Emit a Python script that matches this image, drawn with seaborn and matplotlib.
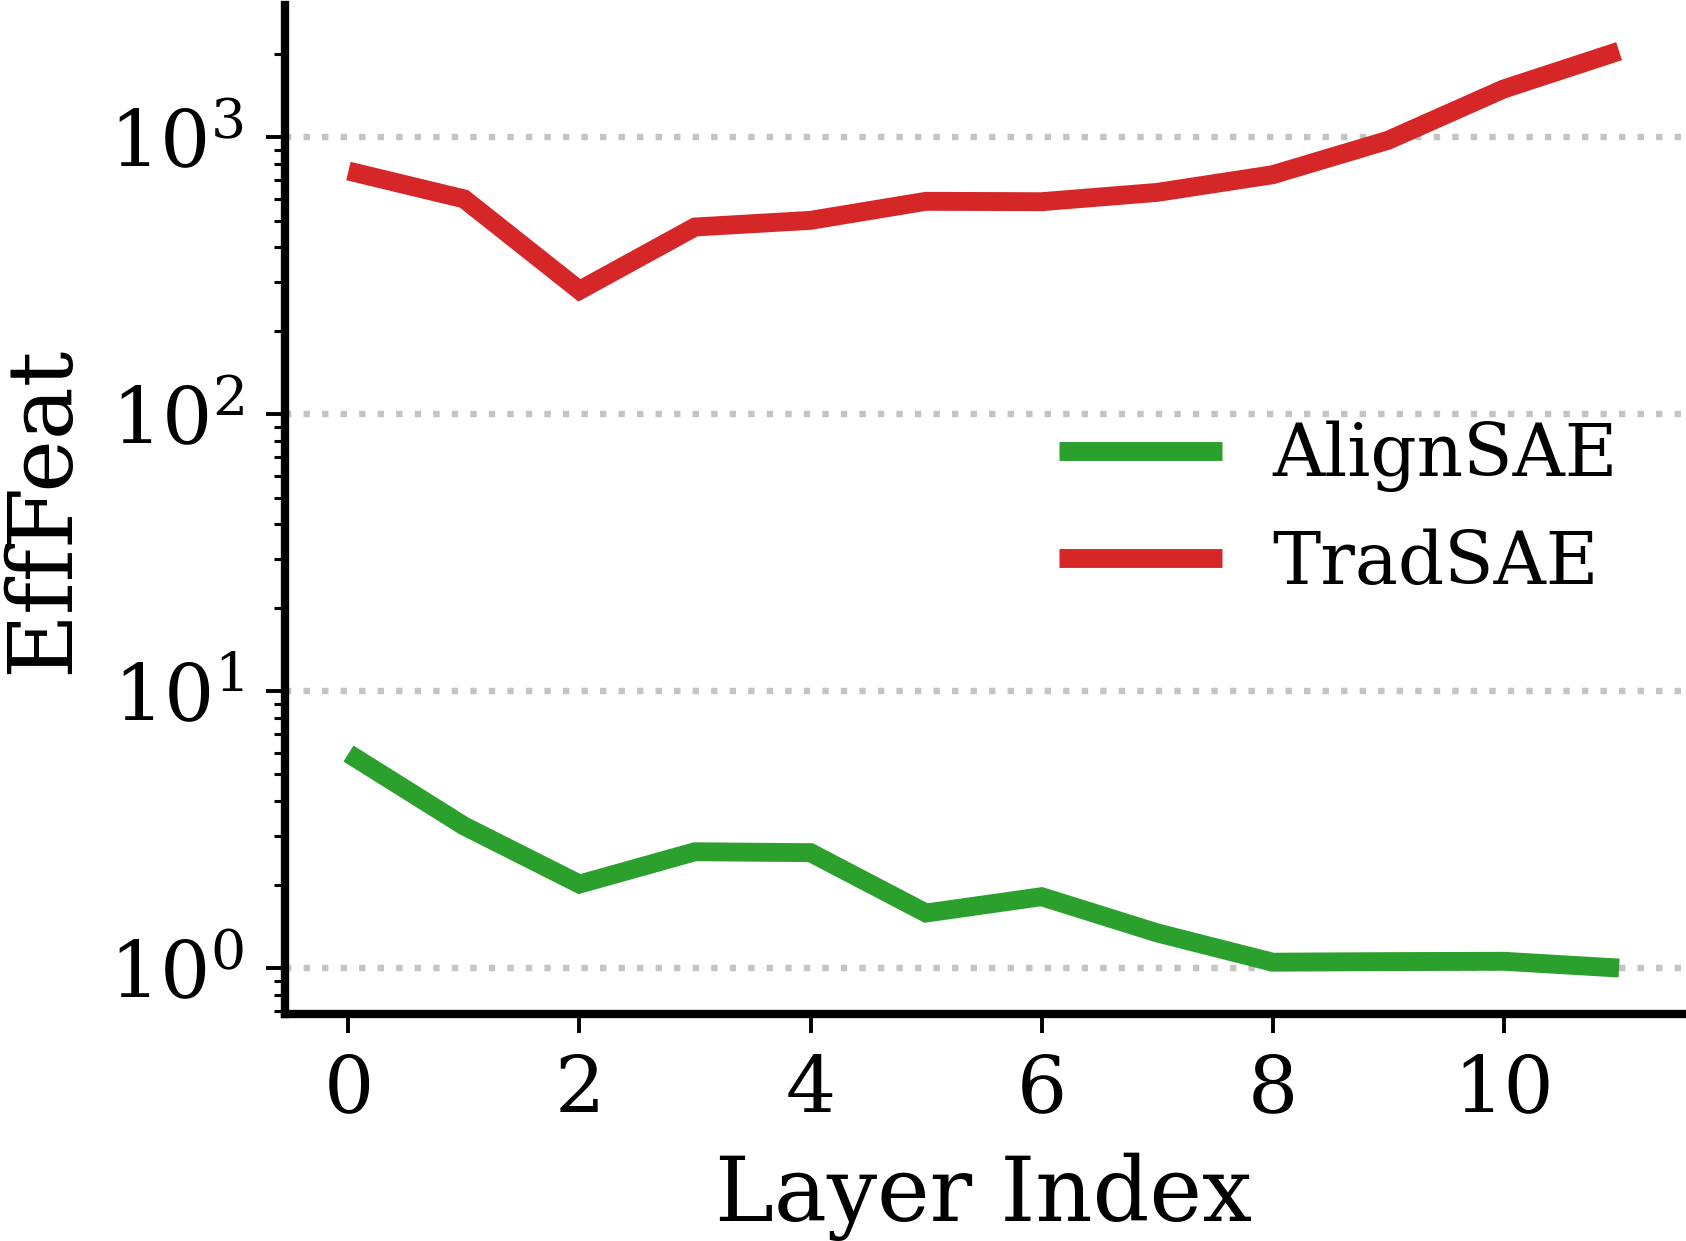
import matplotlib
matplotlib.use("Agg")
import matplotlib.pyplot as plt
import seaborn as sns
import pandas as pd
import numpy as np

layers = list(range(12))
align_sae = [5.95, 3.26, 2.01, 2.63, 2.61, 1.58, 1.81, 1.34, 1.05, 1.055, 1.058, 1.00]
trad_sae = [755, 599, 280, 474, 501, 587, 585, 632, 732, 975, 1493, 2045]
series_names = ["AlignSAE", "TradSAE"]
colors = ["#2ca02c", "#d62728"]
x_ticks = [0, 2, 4, 6, 8, 10]

df = pd.DataFrame({
    "Layer Index": layers * 2,
    "EffFeat": align_sae + trad_sae,
    "Method": [series_names[0]] * len(layers) + [series_names[1]] * len(layers),
})

sns.set_style("ticks")
plt.rcParams["font.family"] = ["DejaVu Serif"]
plt.rcParams["mathtext.fontset"] = "dejavuserif"
plt.rcParams["text.color"] = "black"
plt.rcParams["axes.labelcolor"] = "black"
plt.rcParams["axes.edgecolor"] = "black"
plt.rcParams["xtick.color"] = "black"
plt.rcParams["ytick.color"] = "black"
plt.rcParams["lines.solid_capstyle"] = "butt"
plt.rcParams["lines.solid_joinstyle"] = "miter"

fig = plt.figure(figsize=(8.43, 6.205), dpi=200)
ax = fig.add_axes([0.169, 0.183, 0.998 - 0.169, 0.9957 - 0.183])

sns.lineplot(data=df, x="Layer Index", y="EffFeat", hue="Method",
             palette=dict(zip(series_names, colors)), linewidth=6.8, ax=ax)
for ln in ax.get_lines():
    ln.set_solid_capstyle("butt")
    ln.set_solid_joinstyle("miter")

ax.set_yscale("log")
ax.set_xticks(x_ticks)
ax.grid(axis="y", which="major", color="#c4c4c4", linewidth=2.3,
        linestyle=(0, (1, 1.9)))
ax.set_axisbelow(True)

for s in ["top", "right"]:
    ax.spines[s].set_visible(False)
for s in ["left", "bottom"]:
    ax.spines[s].set_linewidth(3.0)

ax.tick_params(axis="both", which="major", labelsize=28.5, length=6.8, width=1.4,
               color="black")
ax.tick_params(axis="x", which="major", pad=7.2)
ax.tick_params(axis="y", which="major", pad=8)
ax.tick_params(axis="y", which="minor", length=4.0, width=1.1, color="black")
ax.set_xlabel("Layer Index", fontsize=32, labelpad=8.5)
ax.set_ylabel("EffFeat", fontsize=32, labelpad=8)

leg = ax.legend(loc="center right", frameon=False, fontsize=26,
                handlelength=2.25, handletextpad=0.7)
for h in leg.get_lines():
    h.set_linewidth(6.8)
    h.set_solid_capstyle("butt")

fig.savefig("out.png", dpi=200)
